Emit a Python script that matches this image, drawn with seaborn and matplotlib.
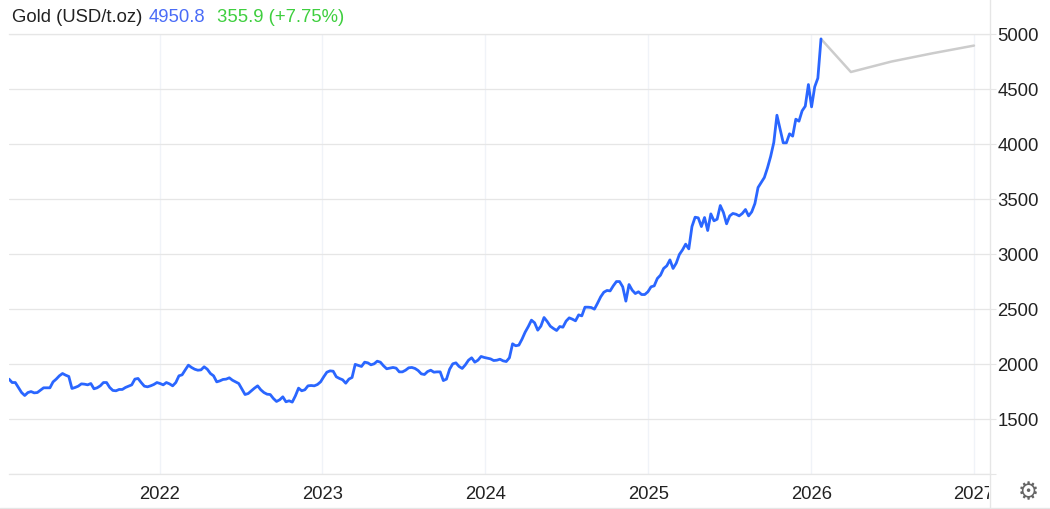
import matplotlib
matplotlib.use("Agg")
import matplotlib.pyplot as plt
import matplotlib.dates as mdates
from matplotlib.lines import Line2D
from matplotlib.transforms import Bbox
import pandas as pd
import seaborn as sns

# precio semanal
gold_price = [
    1858, 1827, 1827, 1782, 1736, 1709, 1736, 1745, 1733, 1736,
    1758, 1779, 1779, 1779, 1833, 1858, 1888, 1909, 1894, 1882,
    1773, 1782, 1794, 1815, 1812, 1806, 1818, 1770, 1779, 1797,
    1827, 1827, 1782, 1755, 1752, 1764, 1764, 1782, 1794, 1806,
    1858, 1864, 1827, 1794, 1788, 1797, 1809, 1827, 1818, 1806,
    1827, 1815, 1797, 1827, 1888, 1897, 1942, 1985, 1964, 1948,
    1939, 1942, 1970, 1948, 1909, 1888, 1833, 1842, 1855, 1858,
    1870, 1848, 1833, 1818, 1767, 1718, 1727, 1752, 1776, 1797,
    1761, 1736, 1721, 1718, 1682, 1655, 1670, 1697, 1652, 1661,
    1649, 1706, 1776, 1752, 1761, 1797, 1800, 1797, 1809, 1833,
    1879, 1921, 1933, 1930, 1879, 1864, 1852, 1821, 1858, 1873,
    1992, 1982, 1973, 2012, 2006, 1988, 1997, 2021, 2012, 1979,
    1952, 1958, 1964, 1958, 1924, 1924, 1939, 1961, 1964, 1955,
    1936, 1906, 1900, 1927, 1939, 1921, 1924, 1924, 1845, 1858,
    1948, 1997, 2006, 1973, 1955, 1988, 2030, 2052, 2012, 2030,
    2064, 2055, 2048, 2042, 2027, 2030, 2039, 2024, 2018, 2052,
    2179, 2161, 2167, 2221, 2285, 2336, 2394, 2370, 2303, 2340,
    2418, 2382, 2339, 2318, 2300, 2336, 2330, 2385, 2415, 2403,
    2388, 2442, 2433, 2512, 2512, 2509, 2494, 2548, 2606, 2648,
    2664, 2660, 2706, 2745, 2745, 2697, 2567, 2718, 2667, 2636,
    2652, 2627, 2627, 2652, 2697, 2706, 2773, 2803, 2864, 2888,
    2942, 2864, 2912, 2991, 3033, 3085, 3042, 3245, 3330, 3324,
    3245, 3327, 3209, 3360, 3297, 3312, 3436, 3373, 3270, 3342,
    3364, 3357, 3342, 3364, 3400, 3342, 3379, 3454, 3600, 3645,
    3691, 3779, 3882, 4009, 4257, 4130, 4006, 4006, 4088, 4067,
    4221, 4203, 4297, 4339, 4536, 4333, 4515, 4594, 4950.8,
]
first_date = "2021-01-28"
last_date = "2026-01-23"

# pronostico (linea gris)
forecast_dates = ["2026-01-23", "2026-03-31", "2026-06-30", "2026-09-30", "2027-01-01"]
forecast_price = [4950.8, 4650, 4745, 4820, 4890]

year_ticks = ["2022-01-01", "2023-01-01", "2024-01-01", "2025-01-01", "2026-01-01", "2027-01-01"]
year_labels = ["2022", "2023", "2024", "2025", "2026", "2027"]
price_ticks = [1000, 1500, 2000, 2500, 3000, 3500, 4000, 4500, 5000]
price_labels = ["", "1500", "2000", "2500", "3000", "3500", "4000", "4500", "5000"]

W, H = 1050, 510
FONT = 13.3
TEXT = "#222222"
GRID = "#e6e6e6"

sns.set_style("white")
plt.rcParams["font.family"] = ["Liberation Sans", "DejaVu Sans"]

hist = pd.DataFrame({
    "date": pd.date_range(first_date, last_date, periods=len(gold_price)),
    "price": gold_price,
})
pred = pd.DataFrame({"date": pd.to_datetime(forecast_dates), "price": forecast_price})

fig = plt.figure(figsize=(W / 100, H / 100), dpi=100)
ax = fig.add_axes([9 / W, (H - 474.5) / H, (990 - 9) / W, 440 / H])

sns.lineplot(data=pred, x="date", y="price", ax=ax, color="#cccccc", linewidth=1.8)
sns.lineplot(data=hist, x="date", y="price", ax=ax, color="#2a66ff", linewidth=2.0)

ax.set_xlim(pd.Timestamp("2021-01-28"), pd.Timestamp("2027-02-06"))
ax.set_ylim(1000, 5000)
ax.set_xlabel("")
ax.set_ylabel("")

ax.set_xticks(mdates.date2num(pd.to_datetime(year_ticks)))
ax.set_xticklabels(year_labels, fontsize=FONT, color=TEXT)
ax.yaxis.tick_right()
ax.set_yticks(price_ticks)
ax.set_yticklabels(price_labels, fontsize=FONT, color=TEXT)
ax.tick_params(axis="x", length=0, pad=8)
ax.tick_params(axis="y", length=4, width=0.8, color=GRID, pad=1.3, right=True)

ax.set_axisbelow(True)
ax.grid(axis="y", color=GRID, linewidth=0.9)
ax.grid(axis="x", color="#f0f3f8", linewidth=1.0)
for side, spine in ax.spines.items():
    spine.set_visible(side in ("top", "bottom"))
    spine.set_color(GRID)
    spine.set_linewidth(0.9)

# el 2027 queda cortado por el eje derecho
for lab in ax.get_xticklabels():
    lab.set_clip_box(Bbox.from_extents(0, 0, 989, H))
    lab.set_clip_on(True)

# eje derecho y linea inferior
fig.add_artist(Line2D([990 / W, 990 / W], [2 / H, 1], color=GRID, linewidth=1.0))
fig.add_artist(Line2D([0, 1], [1.5 / H, 1.5 / H], color=GRID, linewidth=1.0))

# encabezado
title_y = (H - 18) / H
fig.text(12 / W, title_y, "Gold (USD/t.oz)", fontsize=FONT, color=TEXT, va="center")
fig.text(149 / W, title_y, "4950.8", fontsize=FONT, color="#4a6cf7", va="center")
fig.text(217 / W, title_y, "355.9 (+7.75%)", fontsize=FONT, color="#3fcf3f", va="center")

# icono de ajustes
fig.text(1028 / W, (H - 492) / H, "\u2699", fontsize=17, color="#666666",
         ha="center", va="center", family="DejaVu Sans")

fig.savefig("out.png", dpi=100)
